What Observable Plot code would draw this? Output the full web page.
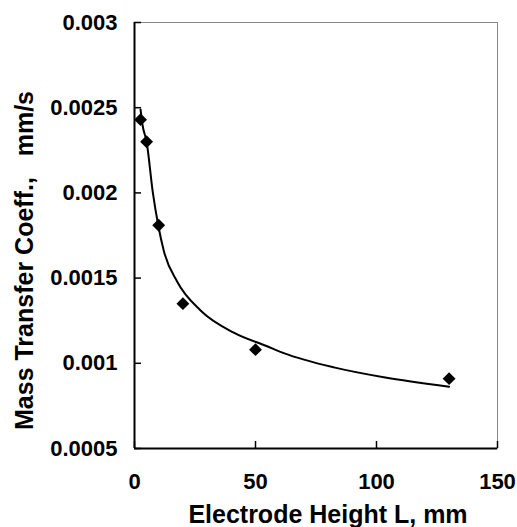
<!DOCTYPE html>
<html><head><meta charset="utf-8">
<script src="https://cdn.jsdelivr.net/npm/d3@7"></script>
<script src="https://cdn.jsdelivr.net/npm/@observablehq/plot@0.6"></script>
<style>
body{margin:0;background:#fff}
svg{display:block}
svg text{white-space:pre}
</style>
</head><body><div id="chart"></div>
<script>
// Measured points
const heightL = [2.5, 5, 10, 20, 50, 130];
const massCoeff = [0.00243, 0.0023, 0.00181, 0.00135, 0.00108, 0.00091];
// Fitted curve
const curveL = [2.5, 3.3, 5, 7.6, 9.8, 12.1, 17.6, 27.3, 41, 54.8, 61.7, 82.4, 103, 130];
const curveK = [0.00249, 0.0024, 0.0023, 0.0020, 0.00181, 0.00166, 0.00148, 0.00131, 0.00118, 0.0011, 0.00106, 0.000976, 0.000918, 0.000863];
// Ticks
const xTicks = [0, 50, 100, 150];
const yTicks = [0.0005, 0.001, 0.0015, 0.002, 0.0025, 0.003];
const xTitle = "Electrode Height L, mm";
const yTitle = "Mass Transfer Coeff.,   mm/s";

const points = heightL.map((x, i) => ({x, y: massCoeff[i]}));
const curve = curveL.map((x, i) => ({x, y: curveK[i]}));

const chart = Plot.plot({
  width: 517, height: 527,
  marginLeft: 134, marginRight: 20, marginTop: 22, marginBottom: 79,
  style: {fontFamily: "'Liberation Sans', Arial, sans-serif", fontWeight: "bold", fontSize: "22px", color: "#000", background: "#fff"},
  x: {domain: [0, 150]},
  y: {domain: [0.0005, 0.003]},
  marks: [
    Plot.frame({stroke: "#888", strokeWidth: 1}),
    Plot.axisX({ticks: xTicks, tickSize: -7, tickFormat: () => "", label: null, strokeWidth: 1.5}),
    Plot.axisX({ticks: xTicks, tickSize: 0, tickPadding: 25, label: null, tickFormat: d => String(d)}),
    Plot.axisY({ticks: yTicks, tickSize: -7, tickFormat: () => "", label: null, strokeWidth: 1.5}),
    Plot.axisY({ticks: yTicks, tickSize: 0, tickPadding: 17, label: null, tickFormat: d => String(d)}),
    Plot.ruleX([0], {strokeWidth: 2}),
    Plot.ruleY([0.0005], {strokeWidth: 2}),
    Plot.line(curve, {x: "x", y: "y", curve: "monotone-x", strokeWidth: 2, stroke: "#000"}),
    Plot.dot(points, {x: "x", y: "y", symbol: "diamond2", fill: "#000", stroke: "none", r: 5.8}),
    Plot.text([xTitle], {text: d => d, frameAnchor: "bottom", textAnchor: "middle", lineAnchor: "middle", dx: 12, dy: 66, fontSize: 25}),
    Plot.text([yTitle], {text: d => d, frameAnchor: "left", textAnchor: "middle", lineAnchor: "middle", rotate: -90, dx: -110, dy: 25, fontSize: 25})
  ]
});
document.getElementById("chart").append(chart);
</script>
</body></html>
